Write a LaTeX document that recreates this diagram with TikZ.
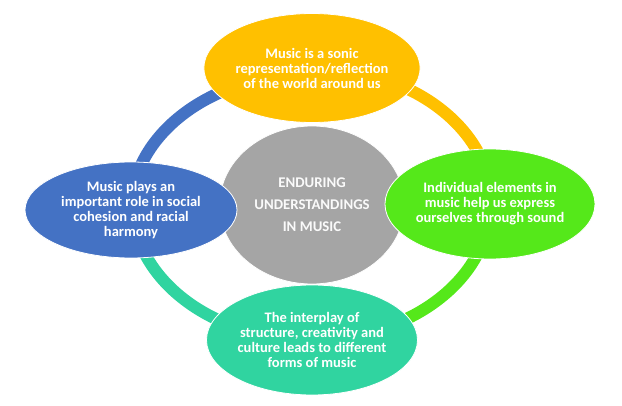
\documentclass[tikz,border=0pt]{standalone}
\usepackage{fontspec}
\setmainfont{Carlito}
\usetikzlibrary{positioning, calc, shapes.geometric, backgrounds}
\definecolor{Sun}{HTML}{FFC000}
\definecolor{Sea}{HTML}{4472C4}
\definecolor{Lime}{HTML}{55E81A}
\definecolor{Mint}{HTML}{30D4A0}
\definecolor{Stone}{HTML}{A5A5A5}
\tikzset{
    idea/.style={ellipse, draw=white, line width=0.8pt, text=white, align=center,
        font=\bfseries\fontsize{14.5}{15}\selectfont, inner sep=0pt},
    core/.style={ellipse, draw=white, line width=0.8pt, fill=Stone, text=white!95!Stone, align=center,
        font=\bfseries\fontsize{14.8}{22}\selectfont, minimum width=185pt, minimum height=158pt},
    ring/.style={line width=12pt, color=#1},
}

\begin{document}
\begin{tikzpicture}[x=1pt, y=1pt]
    \useasboundingbox (0,0) rectangle (622,405);

    % Centro
    \node[core] (core) at (312,200) {ENDURING\\UNDERSTANDINGS\\IN MUSIC};

    % Idee attorno
    \node[idea, fill=Sun, minimum width=213pt, minimum height=109pt] (top) at (312,337)
        {Music is a sonic\\representation/reflection\\of the world around us};
    \node[idea, fill=Lime, minimum width=210pt, minimum height=110pt] (right) at (490,201)
        {Individual elements in\\music help us express\\ourselves through sound};
    \node[idea, fill=Mint, minimum width=211pt, minimum height=110pt] (bottom) at (312,65)
        {The interplay of\\structure, creativity and\\culture leads to different\\forms of music};
    \node[idea, fill=Sea, minimum width=212pt, minimum height=96pt] (left) at (131,195)
        {Music plays an\\important role in social\\cohesion and racial\\harmony};

    % Anello
    \begin{scope}[on background layer]
        \draw[ring=Sun] (top.center) arc[start angle=90, end angle=0, x radius=179.5, y radius=136];
        \draw[ring=Lime] (right.center) arc[start angle=0, end angle=-90, x radius=179.5, y radius=136];
        \draw[ring=Mint] (bottom.center) arc[start angle=-90, end angle=-180, x radius=179.5, y radius=136];
        \draw[ring=Sea] (left.center) arc[start angle=180, end angle=90, x radius=179.5, y radius=136];
    \end{scope}
\end{tikzpicture}
\end{document}
